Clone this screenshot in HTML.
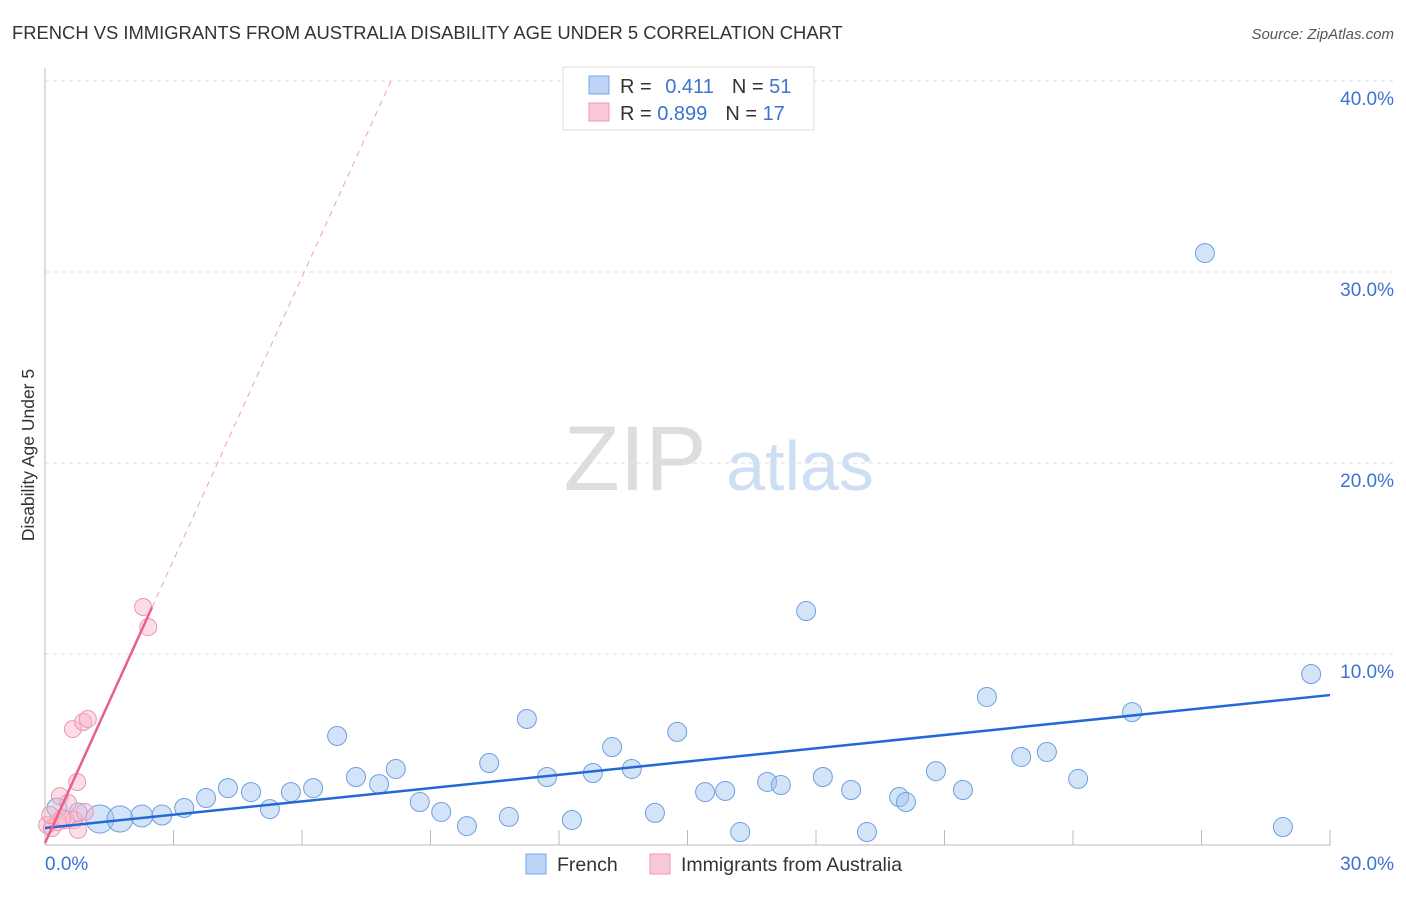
<!DOCTYPE html>
<html><head><meta charset="utf-8"><style>
body{margin:0;background:#fff;font-family:"Liberation Sans",sans-serif;}
svg text{font-family:"Liberation Sans",sans-serif;}
</style></head><body>
<svg width="1406" height="892">
<text x="12" y="39" font-size="18.4" fill="#333">FRENCH VS IMMIGRANTS FROM AUSTRALIA DISABILITY AGE UNDER 5 CORRELATION CHART</text>
<text x="1394" y="39" font-size="15" fill="#555" font-style="italic" text-anchor="end">Source: ZipAtlas.com</text>
<text x="635" y="490" font-size="92" fill="#ddd" font-family="Liberation Serif" text-anchor="middle">ZIP</text>
<text x="800" y="490" font-size="70" fill="#cfdff3" text-anchor="middle">atlas</text>
<g id="grid"></g>
<g id="axes"></g>
<g id="marks"></g>
<text transform="translate(34,455) rotate(-90)" font-size="17.5" fill="#333" text-anchor="middle">Disability Age Under 5</text>
<text x="45" y="870" font-size="19" fill="#3b73d1">0.0%</text>
<text x="1394" y="870" font-size="19" fill="#3b73d1" text-anchor="end">30.0%</text>
<g>
<rect x="563" y="67" width="251" height="63" fill="#fff" stroke="#ddd"/>
<rect x="589" y="76" width="20" height="18" fill="#bcd4f5" stroke="#7aa6e6"/>
<rect x="589" y="103" width="20" height="18" fill="#fac9d8" stroke="#f09ab5"/>
<text x="620" y="93" font-size="20" fill="#333">R = <tspan fill="#3b73d1" dx="8">0.411</tspan><tspan dx="18">N = </tspan><tspan fill="#3b73d1">51</tspan></text>
<text x="620" y="120" font-size="20" fill="#333">R = <tspan fill="#3b73d1">0.899</tspan><tspan dx="18">N = </tspan><tspan fill="#3b73d1">17</tspan></text>
</g>
<g>
<rect x="526" y="854" width="20" height="20" fill="#bcd4f5" stroke="#7aa6e6"/>
<text x="557" y="871" font-size="19.5" fill="#333">French</text>
<rect x="650" y="854" width="20" height="20" fill="#fac9d8" stroke="#f09ab5"/>
<text x="681" y="871" font-size="19.5" fill="#333">Immigrants from Australia</text>
</g>
</svg>
<script>
const yTicks=[10,20,30,40];
const yTickLabels=["10.0%","20.0%","30.0%","40.0%"];
const xTickVals=[0,3,6,9,12,15,18,21,24,27,30];
const frenchX=[0.28,0.77,1.28,1.75,2.26,2.73,3.25,3.76,4.27,4.81,5.25,5.74,6.26,6.82,7.26,7.80,8.19,8.75,9.25,9.85,10.37,10.83,11.25,11.72,12.30,12.79,13.24,13.70,14.24,14.76,15.41,15.88,16.23,16.86,17.18,17.77,18.16,18.82,19.19,19.94,20.10,20.80,21.43,21.99,22.79,23.39,24.12,25.38,27.08,28.90,29.56];
const frenchY=[1.94,1.73,1.36,1.36,1.52,1.57,1.94,2.46,2.98,2.77,1.88,2.77,2.98,5.71,3.56,3.19,3.98,2.25,1.73,0.99,4.29,1.47,6.60,3.56,1.31,3.77,5.13,3.98,1.68,5.92,2.77,2.83,0.68,3.30,3.14,12.25,3.56,2.88,0.68,2.51,2.25,3.87,2.88,7.75,4.61,4.87,3.46,6.96,30.99,0.94,8.95];
const frenchR=[10,9,14,13,11,10];
const ausX=[0.05,0.16,0.3,0.35,0.49,0.54,0.68,0.77,0.93,0.75,0.65,0.89,1.0,2.29,2.41,0.12,0.4];
const ausY=[1.05,0.89,1.2,2.56,1.31,2.2,1.31,0.79,1.73,3.3,6.07,6.44,6.6,12.46,11.41,1.57,1.41];
const frenchTrend=[0.89,7.85];
const ausTrend=[0.1,4.94];
const ns="http://www.w3.org/2000/svg";
const X=v=>45+v/30*1285, Y=v=>845-v*19.1;
function mk(p,t,a){const e=document.createElementNS(ns,t);for(const k in a)e.setAttribute(k,a[k]);p.appendChild(e);return e;}
const grid=document.getElementById('grid'),axes=document.getElementById('axes'),marks=document.getElementById('marks');
yTicks.forEach((v,i)=>{
 const l=mk(grid,'line',{x1:45,x2:1394,y1:Y(v),y2:Y(v),stroke:'#ddd','stroke-dasharray':'4,4'});
 
 
 const t=mk(grid,'text',{x:1394,y:Y(v)+24,'font-size':19,fill:'#3b73d1','text-anchor':'end'});t.textContent=yTickLabels[i];
 
 
});
const ya=mk(axes,'line',{x1:45,x2:45,y1:68,y2:845,stroke:'#bbb'});


const xa=mk(axes,'line',{x1:45,x2:1330,y1:845,y2:845,stroke:'#bbb'});


xTickVals.forEach(v=>{const t=mk(axes,'line',{x1:X(v),x2:X(v),y1:830,y2:845,stroke:'#bbb'});
 
 });
frenchX.forEach((v,i)=>{const c=mk(marks,'circle',{cx:X(v),cy:Y(frenchY[i]),r:frenchR[i]||9.5,fill:'rgba(160,196,240,0.45)',stroke:'#6f9fe0','stroke-width':1});
 
 });
ausX.forEach((v,i)=>{const c=mk(marks,'circle',{cx:X(v),cy:Y(ausY[i]),r:8.5,fill:'rgba(248,180,200,0.45)',stroke:'#ef94b2','stroke-width':1});
 
 });
const ft=mk(marks,'line',{x1:X(0),y1:Y(frenchTrend[0]),x2:X(30),y2:Y(frenchTrend[1]),stroke:'#2468d8','stroke-width':2.5});


const xe=(40-ausTrend[0])/ausTrend[1];
const ad=mk(marks,'line',{x1:X(2.5),y1:Y(ausTrend[0]+ausTrend[1]*2.5),x2:X(xe),y2:Y(40),stroke:'#f0a0b8','stroke-width':1,'stroke-dasharray':'6,5'});


const at=mk(marks,'line',{x1:X(0),y1:Y(ausTrend[0]),x2:X(2.5),y2:Y(ausTrend[0]+ausTrend[1]*2.5),stroke:'#e8608a','stroke-width':2.5});


</script>
</body></html>
